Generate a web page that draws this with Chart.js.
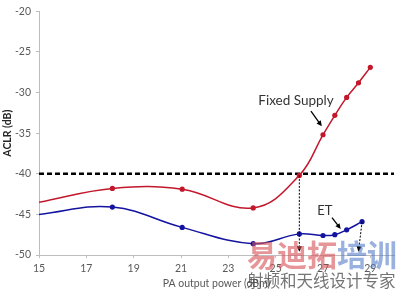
<!DOCTYPE html>
<html>
<head>
<meta charset="utf-8">
<script src="https://cdn.jsdelivr.net/npm/chart.js@4"></script>
<style>
  html, body { margin: 0; padding: 0; background: #fff; }
  #wrap { width: 400px; height: 291px; }
</style>
</head>
<body>
<div id="wrap"><canvas id="aclr-chart"></canvas></div>
<script>
// values
const fixedX = [15, 18.1, 21.05, 24.05, 26, 27, 27.5, 28, 28.5, 29];
const fixedY = [-43.5, -41.8, -41.9, -44.2, -40.2, -35.2, -32.8, -30.6, -28.8, -26.9];
const etX = [15, 18.1, 21.05, 24.05, 26, 27, 27.5, 28, 28.65];
const etY = [-45.0, -44.1, -46.6, -48.6, -47.4, -47.6, -47.5, -46.9, -45.9];
const xTicks = [15, 17, 19, 21, 23, 25, 27, 29];
const limitLine = -40;

const toPoints = (xs, ys) => xs.map((x, i) => ({ x: x, y: ys[i] }));
const labelFont = { family: 'Lato, "Open Sans", sans-serif', size: 10.5 };

function drawArrow(ctx, x1, y1, x2, y2, opts) {
    const head = opts.head || 5;
    const ang = Math.atan2(y2 - y1, x2 - x1);
    ctx.save();
    ctx.strokeStyle = '#000';
    ctx.fillStyle = '#000';
    ctx.lineWidth = opts.width || 1;
    ctx.setLineDash(opts.dash || []);
    ctx.beginPath();
    ctx.moveTo(x1, y1);
    ctx.lineTo(x2 - Math.cos(ang) * head * 0.6, y2 - Math.sin(ang) * head * 0.6);
    ctx.stroke();
    ctx.setLineDash([]);
    ctx.beginPath();
    ctx.moveTo(x2, y2);
    ctx.lineTo(x2 - head * Math.cos(ang - 0.45), y2 - head * Math.sin(ang - 0.45));
    ctx.lineTo(x2 - head * Math.cos(ang + 0.45), y2 - head * Math.sin(ang + 0.45));
    ctx.closePath();
    ctx.fill();
    ctx.restore();
}

const annotations = {
    id: 'annotations',
    beforeDatasetsDraw(chart) {
        const { ctx, chartArea, scales: { x, y } } = chart;
        // dashed ACLR limit
        ctx.save();
        ctx.strokeStyle = '#000';
        ctx.lineWidth = 2.3;
        ctx.setLineDash([5, 3]);
        ctx.beginPath();
        ctx.moveTo(chartArea.left, y.getPixelForValue(limitLine));
        ctx.lineTo(chartArea.right, y.getPixelForValue(limitLine));
        ctx.stroke();
        ctx.restore();
    },
    afterDatasetsDraw(chart) {
        const { ctx, scales: { x, y } } = chart;
        const px = v => x.getPixelForValue(v);
        const py = v => y.getPixelForValue(v);

        // dotted drop arrows
        const dot = { dash: [2, 1.5], width: 1, head: 6 };
        drawArrow(ctx, px(fixedX[4]), py(fixedY[4]), px(26), py(-49.6), dot);
        drawArrow(ctx, px(etX[8]), py(etY[8]), px(28.5), py(-49.6), dot);

        // labels
        ctx.save();
        ctx.fillStyle = '#333';
        ctx.textAlign = 'center';
        ctx.textBaseline = 'middle';
        ctx.font = '13.5px Lato, "Open Sans", sans-serif';
        ctx.fillText('Fixed Supply', px(25.86), py(-30.95));
        ctx.font = '13px Lato, "Open Sans", sans-serif';
        ctx.fillText('ET', px(27.08), py(-44.55));
        ctx.restore();

        const solid = { width: 1.3, head: 6 };
        drawArrow(ctx, px(26.49), py(-32.3), px(26.95), py(-34.15), solid);
        drawArrow(ctx, px(27.38), py(-45.4), px(27.75), py(-46.8), solid);
    },
    afterDraw(chart) {
        // site watermark from the picture
        const { ctx } = chart;
        ctx.save();
        ctx.textBaseline = 'alphabetic';
        ctx.textAlign = 'left';
        ctx.font = 'bold 30px "Noto Sans CJK SC", sans-serif';
        ctx.fillStyle = 'rgba(214, 80, 85, 0.6)';
        ctx.fillText('易迪拓', 247, 266);
        const w = ctx.measureText('易迪拓').width;
        ctx.fillStyle = 'rgba(80, 120, 200, 0.58)';
        ctx.fillText('培训', 247 + w, 266);
        ctx.font = '16.5px "Noto Sans CJK SC", sans-serif';
        ctx.fillStyle = 'rgba(70, 70, 70, 0.75)';
        ctx.fillText('射频和天线设计专家', 247, 287);
        ctx.restore();
    }
};

new Chart(document.getElementById('aclr-chart'), {
    type: 'line',
    data: {
        datasets: [
            {
                label: 'Fixed Supply',
                data: toPoints(fixedX, fixedY),
                borderColor: '#C3182C',
                backgroundColor: '#C3182C',
                borderWidth: 1.5,
                pointRadius: c => c.dataIndex === 0 ? 0 : 2.6,
                pointBorderWidth: 0,
                tension: 0.4
            },
            {
                label: 'ET',
                data: toPoints(etX, etY),
                borderColor: '#1414A0',
                backgroundColor: '#1414A0',
                borderWidth: 1.5,
                pointRadius: c => c.dataIndex === 0 ? 0 : 2.6,
                pointBorderWidth: 0,
                tension: 0.4
            }
        ]
    },
    options: {
        responsive: true,
        maintainAspectRatio: false,
        animation: false,
        layout: { padding: { top: 6, right: 6, left: 0, bottom: 0 } },
        plugins: { legend: { display: false }, tooltip: { enabled: false } },
        scales: {
            x: {
                type: 'linear',
                min: 15,
                max: 30,
                afterBuildTicks: s => { s.ticks = xTicks.map(v => ({ value: v })); },
                afterFit: s => { s.height = 36; },
                border: { color: '#BDBDBD', width: 1 },
                grid: { display: true, drawOnChartArea: false, tickLength: 3, color: '#BDBDBD' },
                ticks: { color: '#595959', font: labelFont, padding: 4, maxRotation: 0, autoSkip: false },
                title: {
                    display: true,
                    text: 'PA output power (dBm)',
                    color: '#595959',
                    font: labelFont,
                    padding: { top: 0, bottom: 1 }
                }
            },
            y: {
                min: -50,
                max: -20,
                afterFit: s => { s.width = 39; },
                border: { color: '#BDBDBD', width: 1 },
                grid: { display: true, drawOnChartArea: false, tickLength: 3, color: '#BDBDBD' },
                ticks: { stepSize: 5, color: '#595959', font: labelFont, padding: 5 },
                title: {
                    display: true,
                    text: 'ACLR (dB)',
                    color: '#262626',
                    font: { family: labelFont.family, size: 10.5, weight: 'bold' },
                    padding: { top: 1, bottom: 0 }
                }
            }
        }
    },
    plugins: [annotations]
});
</script>
</body>
</html>
